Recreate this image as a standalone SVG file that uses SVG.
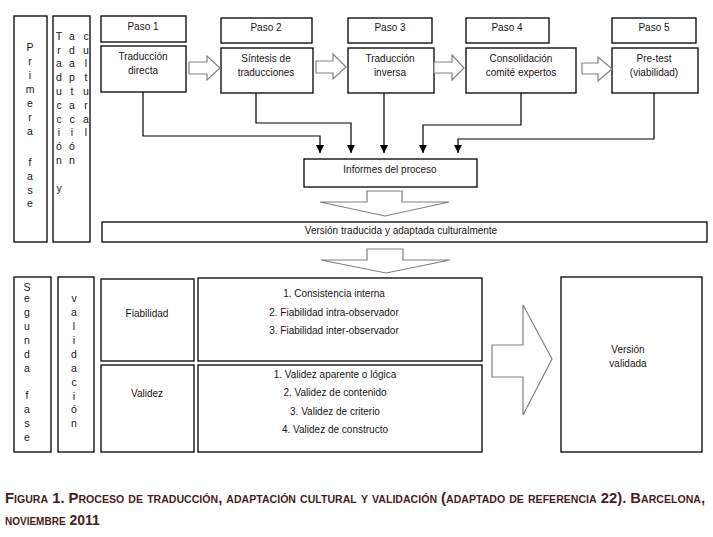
<svg xmlns="http://www.w3.org/2000/svg" width="713" height="537" viewBox="0 0 713 537">
<style>
.box{fill:#fff;stroke:#000;stroke-width:1.3}
.t{font-family:"Liberation Sans",Arial,sans-serif;font-size:10px;fill:#1a1414;text-anchor:middle}
.v{font-family:"Liberation Sans",Arial,sans-serif;font-size:10.5px;fill:#1a1414;text-anchor:middle}
.blk{fill:#fff;stroke:#808080;stroke-width:1.2}
.con{fill:none;stroke:#000;stroke-width:1.2}
.cap{font-family:"Liberation Sans",Arial,sans-serif;font-weight:bold;font-size:14px;fill:#4a1c1c;font-variant:small-caps}
</style>
<defs>
<marker id="ah" markerUnits="userSpaceOnUse" markerWidth="9" markerHeight="9" refX="8" refY="4" orient="auto">
<path d="M0,0 L8,4 L0,8 z" fill="#000"/>
</marker>
</defs>
<rect width="713" height="537" fill="#fff"/>

<g id="primera-fase">
<rect class="box" x="14" y="16" width="33" height="226"/>
<text class="v"><tspan x="30" y="51">P</tspan><tspan x="30" y="65">r</tspan><tspan x="30" y="79">i</tspan><tspan x="30" y="93">m</tspan><tspan x="30" y="107">e</tspan><tspan x="30" y="121">r</tspan><tspan x="30" y="135">a</tspan><tspan x="30" y="166">f</tspan><tspan x="30" y="180">a</tspan><tspan x="30" y="194">s</tspan><tspan x="30" y="207">e</tspan></text>
</g>

<g id="traduccion-adaptacion">
<rect class="box" x="53" y="16" width="37" height="226"/>
<text class="v"><tspan x="59" y="40">T</tspan><tspan x="59" y="54">r</tspan><tspan x="59" y="67">a</tspan><tspan x="59" y="81">d</tspan><tspan x="59" y="95">u</tspan><tspan x="59" y="109">c</tspan><tspan x="59" y="123">c</tspan><tspan x="59" y="136">i</tspan><tspan x="59" y="150">ó</tspan><tspan x="59" y="164">n</tspan><tspan x="59" y="192">y</tspan></text>
<text class="v"><tspan x="72" y="40">a</tspan><tspan x="72" y="54">d</tspan><tspan x="72" y="67">a</tspan><tspan x="72" y="81">p</tspan><tspan x="72" y="95">t</tspan><tspan x="72" y="109">a</tspan><tspan x="72" y="123">c</tspan><tspan x="72" y="136">i</tspan><tspan x="72" y="150">ó</tspan><tspan x="72" y="164">n</tspan></text>
<text class="v"><tspan x="86" y="40">c</tspan><tspan x="86" y="54">u</tspan><tspan x="86" y="67">l</tspan><tspan x="86" y="81">t</tspan><tspan x="86" y="95">u</tspan><tspan x="86" y="109">r</tspan><tspan x="86" y="123">a</tspan><tspan x="86" y="136">l</tspan></text>
</g>

<g id="paso1">
<rect class="box" x="101" y="16" width="85" height="26"/>
<text class="t" x="143" y="30">Paso 1</text>
</g>
<g id="traduccion-directa">
<rect class="box" x="101" y="46" width="85" height="46"/>
<text class="t" x="143" y="60">Traducción</text>
<text class="t" x="143" y="74">directa</text>
</g>
<g id="paso2">
<rect class="box" x="221" y="18" width="91" height="25"/>
<text class="t" x="266" y="31">Paso 2</text>
</g>
<g id="sintesis">
<rect class="box" x="221" y="48" width="92" height="45"/>
<text class="t" x="266" y="62">Síntesis de</text>
<text class="t" x="266" y="76">traducciones</text>
</g>
<g id="paso3">
<rect class="box" x="348" y="18" width="84" height="25"/>
<text class="t" x="390" y="31">Paso 3</text>
</g>
<g id="traduccion-inversa">
<rect class="box" x="348" y="48" width="86" height="45"/>
<text class="t" x="390" y="62">Traducción</text>
<text class="t" x="390" y="76">inversa</text>
</g>
<g id="paso4">
<rect class="box" x="466" y="18" width="83" height="25"/>
<text class="t" x="507" y="31">Paso 4</text>
</g>
<g id="consolidacion">
<rect class="box" x="466" y="48" width="110" height="45"/>
<text class="t" x="521" y="62">Consolidación</text>
<text class="t" x="521" y="76">comité expertos</text>
</g>
<g id="paso5">
<rect class="box" x="612" y="18" width="84" height="25"/>
<text class="t" x="654" y="31">Paso 5</text>
</g>
<g id="pretest">
<rect class="box" x="612" y="48" width="86" height="45"/>
<text class="t" x="654" y="62">Pre-test</text>
<text class="t" x="654" y="76">(viabilidad)</text>
</g>

<g id="informes">
<rect class="box" x="304" y="159" width="173" height="28"/>
<text class="t" x="390" y="173">Informes del proceso</text>
</g>
<g id="version-traducida">
<rect class="box" x="102" y="222" width="605" height="20"/>
<text class="t" x="401" y="234">Versión traducida y adaptada culturalmente</text>
</g>

<g id="segunda-fase">
<rect class="box" x="14" y="277" width="37" height="175"/>
<text class="v"><tspan x="27" y="291">S</tspan><tspan x="27" y="302">e</tspan><tspan x="27" y="316">g</tspan><tspan x="27" y="330">u</tspan><tspan x="27" y="344">n</tspan><tspan x="27" y="358">d</tspan><tspan x="27" y="372">a</tspan><tspan x="27" y="399">f</tspan><tspan x="27" y="413">a</tspan><tspan x="27" y="427">s</tspan><tspan x="27" y="441">e</tspan></text>
</g>
<g id="validacion">
<rect class="box" x="58" y="277" width="36" height="175"/>
<text class="v"><tspan x="74" y="302">v</tspan><tspan x="74" y="316">a</tspan><tspan x="74" y="330">l</tspan><tspan x="74" y="344">i</tspan><tspan x="74" y="358">d</tspan><tspan x="74" y="372">a</tspan><tspan x="74" y="386">c</tspan><tspan x="74" y="400">i</tspan><tspan x="74" y="413">ó</tspan><tspan x="74" y="427">n</tspan></text>
</g>
<g id="fiabilidad">
<rect class="box" x="101" y="279" width="93" height="82"/>
<text class="t" x="147" y="317">Fiabilidad</text>
</g>
<g id="validez">
<rect class="box" x="101" y="365" width="93" height="87"/>
<text class="t" x="147" y="397">Validez</text>
</g>
<g id="fiabilidad-lista">
<rect class="box" x="198" y="278" width="284" height="83"/>
<text class="t" x="334" y="297">1. Consistencia interna</text>
<text class="t" x="334" y="316">2. Fiabilidad intra-observador</text>
<text class="t" x="334" y="334">3. Fiabilidad inter-observador</text>
</g>
<g id="validez-lista">
<rect class="box" x="198" y="365" width="284" height="87"/>
<text class="t" x="335" y="378">1. Validez aparente o lógica</text>
<text class="t" x="335" y="396">2. Validez de contenido</text>
<text class="t" x="335" y="415">3. Validez de criterio</text>
<text class="t" x="335" y="433">4. Validez de constructo</text>
</g>
<g id="version-validada">
<rect class="box" x="561" y="277" width="141" height="175"/>
<text class="t" x="628" y="353">Versión</text>
<text class="t" x="628" y="367">validada</text>
</g>

<g id="connectors">
<polygon class="blk" points="189,62 207,62 207,56 220,68 207,80 207,74 189,74"/>
<polygon class="blk" points="316,61 333,61 333,54 346,67 333,79 333,73 316,73"/>
<polygon class="blk" points="434,62 452,62 452,55 464,68 452,80 452,73 434,73"/>
<polygon class="blk" points="582,63 598,63 598,57 612,69 598,81 598,74 582,74"/>
<polygon class="blk" points="367,191 402,191 402,202 449,202 385,216 320,202 367,202"/>
<polygon class="blk" points="367,249 403,249 403,260 450,260 386,273 321,260 367,260"/>
<polygon class="blk" points="492,345 523,345 523,305 552,359 523,415 523,377 492,377"/>
<path class="con" d="M143,92 V136 H320 V153" marker-end="url(#ah)"/>
<path class="con" d="M256,93 V123 H351 V153" marker-end="url(#ah)"/>
<path class="con" d="M384,93 V153" marker-end="url(#ah)"/>
<path class="con" d="M521,93 V125 H423 V153" marker-end="url(#ah)"/>
<path class="con" d="M654,93 V139 H458 V153" marker-end="url(#ah)"/>
</g>

<text class="cap" x="5" y="503" textLength="700" lengthAdjust="spacingAndGlyphs">Figura 1. Proceso de traducción, adaptación cultural y validación (adaptado de referencia 22). Barcelona,</text>
<text class="cap" x="5" y="525">noviembre 2011</text>
</svg>
